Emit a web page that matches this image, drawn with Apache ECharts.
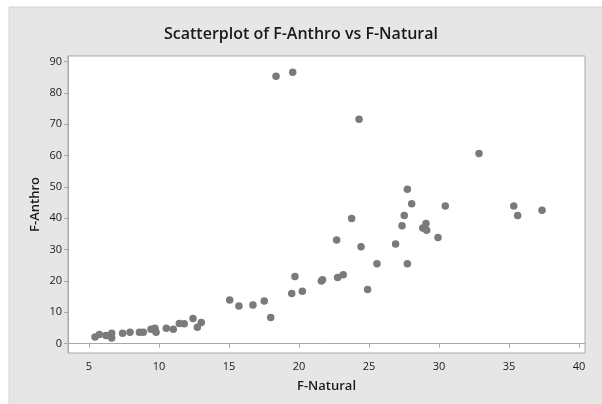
<!DOCTYPE html>
<html>
<head>
<meta charset="utf-8">
<script src="https://cdn.jsdelivr.net/npm/echarts@6/dist/echarts.min.js"></script>
<style>
  html, body { margin: 0; padding: 0; background: #fff; }
  #chart { width: 602px; height: 404px; }
</style>
</head>
<body>
<div id="chart"></div>
<script>
// values
const fNatural = [
  5.43, 5.74, 6.21, 6.62, 6.62, 7.40, 7.93, 8.60, 8.88, 9.43,
  9.71, 9.79, 10.52, 11.02, 11.45, 11.80, 12.43, 12.74, 13.02, 15.05,
  15.71, 16.71, 17.52, 17.98, 19.48, 19.71, 20.24, 21.60, 21.68, 22.76,
  23.16, 24.90, 25.57, 27.74, 22.69, 23.76, 24.43, 26.90, 27.36, 27.52,
  28.05, 27.74, 32.86, 30.45, 29.07, 28.84, 29.12, 29.93, 35.34, 35.62,
  37.36, 18.36, 19.55, 24.29
]
const fAnthro = [
  2.1, 2.9, 2.55, 3.3, 1.8, 3.3, 3.6, 3.6, 3.6, 4.6,
  4.9, 3.6, 4.9, 4.6, 6.4, 6.3, 8.0, 5.2, 6.7, 13.9,
  12.0, 12.3, 13.6, 8.3, 16.0, 21.4, 16.7, 20.0, 20.4, 21.1,
  22.0, 17.3, 25.5, 25.5, 33.1, 39.9, 30.9, 31.8, 37.6, 40.9,
  44.6, 49.3, 60.7, 43.9, 38.3, 36.9, 36.2, 33.9, 43.9, 40.9,
  42.6, 85.3, 86.6, 71.6
]
const xTicks = [5, 10, 15, 20, 25, 30, 35, 40]
const yTicks = [0, 10, 20, 30, 40, 50, 60, 70, 80, 90]

const points = fNatural.map((x, i) => [x, fAnthro[i]])

const frameColor = '#a9a9a9'
const font = 'Open Sans'

const option = {
  backgroundColor: '#fff',
  animation: false,
  graphic: [
    {
      type: 'rect',
      z: -10,
      silent: true,
      shape: { x: 9, y: 7, width: 600, height: 400 },
      style: { fill: '#e6e6e6', stroke: '#d4d4d4', lineWidth: 1 }
    }
  ],
  title: {
    text: 'Scatterplot of F-Anthro vs F-Natural',
    left: 'center',
    top: 21,
    textStyle: {
      fontFamily: font,
      fontSize: 16,
      fontWeight: 600,
      color: '#1a1a1a'
    }
  },
  grid: {
    left: 68,
    top: 56,
    right: 17,
    bottom: 51,
    containLabel: false,
    outerBoundsMode: 'none',
    show: true,
    backgroundColor: '#fff',
    borderColor: frameColor,
    borderWidth: 1
  },
  xAxis: {
    type: 'value',
    min: 3.5,
    max: 40.43,
    name: 'F-Natural',
    nameLocation: 'middle',
    nameGap: 27,
    nameMoveOverlap: false,
    nameTextStyle: { fontFamily: font, fontSize: 13, fontWeight: 600, color: '#1a1a1a' },
    axisLine: { show: true, lineStyle: { color: frameColor } },
    axisTick: { show: true, length: 4, customValues: xTicks, lineStyle: { color: frameColor } },
    axisLabel: {
      customValues: xTicks,
      margin: 8,
      fontFamily: font,
      fontSize: 11,
      color: '#1a1a1a'
    },
    splitLine: { show: false }
  },
  yAxis: {
    type: 'value',
    min: -3,
    max: 91.8,
    name: 'F-Anthro',
    nameLocation: 'middle',
    nameGap: 26,
    nameMoveOverlap: false,
    nameTextStyle: { fontFamily: font, fontSize: 13, fontWeight: 600, color: '#1a1a1a' },
    axisLine: { show: true, lineStyle: { color: frameColor } },
    axisTick: { show: true, length: 4, customValues: yTicks, lineStyle: { color: frameColor } },
    axisLabel: {
      customValues: yTicks,
      margin: 6,
      fontFamily: font,
      fontSize: 11,
      color: '#1a1a1a'
    },
    splitLine: { show: false }
  },
  series: [
    {
      type: 'scatter',
      data: points,
      symbol: 'circle',
      symbolSize: 7.5,
      itemStyle: { color: '#7a7a7a', opacity: 1 }
    }
  ]
}

const chart = echarts.init(document.getElementById('chart'))
chart.setOption(option)
</script>
</body>
</html>
